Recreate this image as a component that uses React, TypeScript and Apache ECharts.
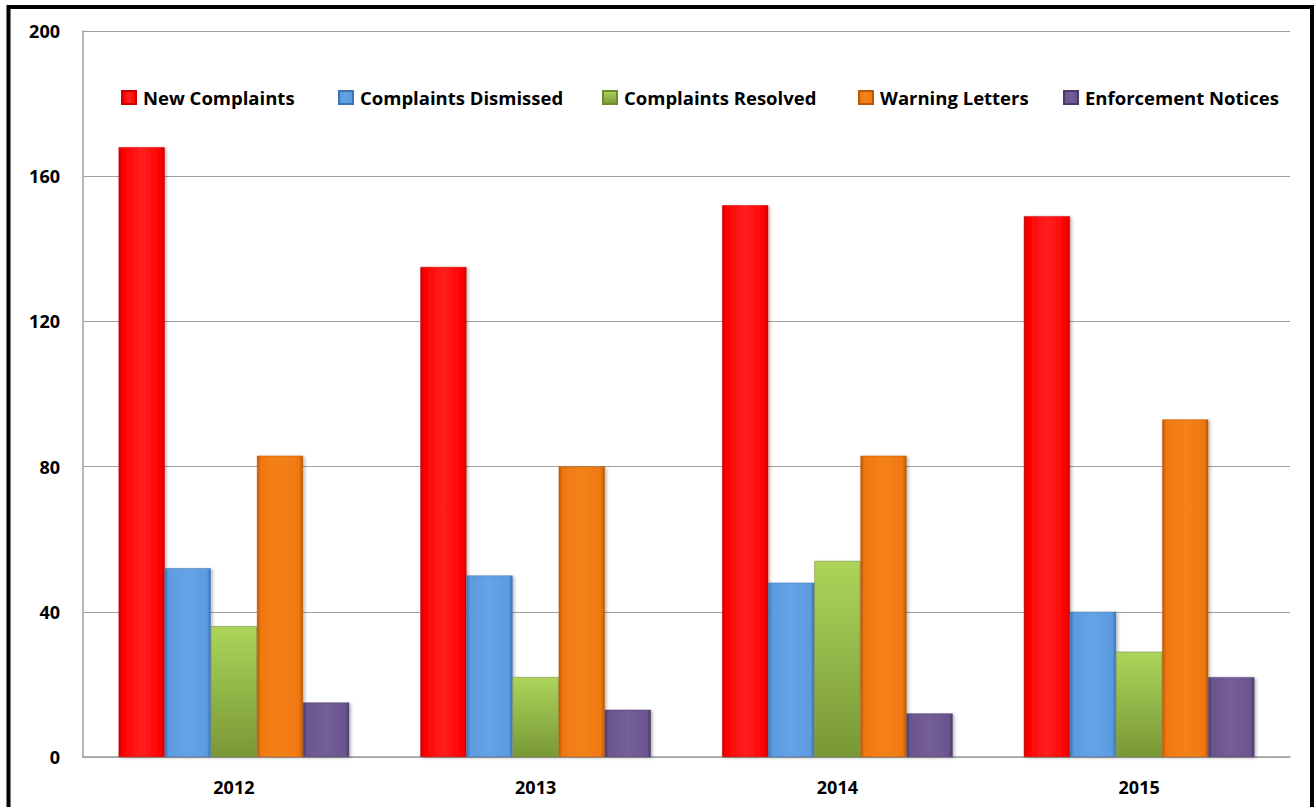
import React, { useEffect, useRef } from "react";
import * as echarts from "echarts";

const years = ["2012", "2013", "2014", "2015"];
const seriesNames = [
  "New Complaints",
  "Complaints Dismissed",
  "Complaints Resolved",
  "Warning Letters",
  "Enforcement Notices",
];
const newComplaints = [168, 135, 152, 149];
const complaintsDismissed = [52, 50, 48, 40];
const complaintsResolved = [36, 22, 54, 29];
const warningLetters = [83, 80, 83, 93];
const enforcementNotices = [15, 13, 12, 22];
const yTicks = [0, 40, 80, 120, 160, 200];

const seriesValues = [
  newComplaints,
  complaintsDismissed,
  complaintsResolved,
  warningLetters,
  enforcementNotices,
];

// [edge, base, highlight]
const palette = [
  ["#C80000", "#FF0000", "#FF2020"],
  ["#3C73B4", "#5B9BE0", "#66A3E6"],
  ["#6E8C30", "#98BC4A", "#A6CC55"],
  ["#B85808", "#F07810", "#F4821A"],
  ["#4A3A68", "#6B5590", "#745E9A"],
];

const legendLefts = [121, 338, 602, 858, 1063];

const FONT = "'Open Sans', 'DejaVu Sans', sans-serif";

function barColor(i: number) {
  const [edge, base, hi] = palette[i];
  if (i === 2) {
    return new echarts.graphic.LinearGradient(0, 0, 0, 1, [
      { offset: 0, color: "#ADD45A" },
      { offset: 1, color: "#789836" },
    ]);
  }
  return new echarts.graphic.LinearGradient(0, 0, 1, 0, [
    { offset: 0, color: edge },
    { offset: 0.08, color: base },
    { offset: 0.5, color: hi },
    { offset: 0.92, color: base },
    { offset: 1, color: edge },
  ]);
}

export default function App() {
  const ref = useRef<HTMLDivElement>(null);
  useEffect(() => {
    if (!ref.current) return;
    const chart = echarts.init(ref.current, undefined, { renderer: "svg" });
    const option: any = {
      animation: false,
      backgroundColor: "#ffffff",
      legend: seriesNames.map((name, i) => ({
        data: [name],
        left: legendLefts[i],
        top: 88,
        icon: "rect",
        itemWidth: 14,
        itemHeight: 13,
        itemGap: 0,
        padding: 0,
        selectedMode: false,
        textStyle: {
          fontFamily: FONT,
          fontWeight: "bold",
          fontSize: 18.5,
          color: "#000",
          padding: [0, 0, 0, 2],
        },
      })),
      grid: { left: 83, top: 31, right: 25, bottom: 50, containLabel: false },
      xAxis: {
        type: "category",
        data: years,
        axisLine: { show: true, lineStyle: { color: "#A0A0A0", width: 1.5 } },
        axisTick: { show: false },
        axisLabel: {
          fontFamily: FONT,
          fontWeight: "bold",
          fontSize: 18,
          color: "#000",
          margin: 21,
        },
      },
      yAxis: {
        type: "value",
        min: 0,
        max: 200,
        interval: 40,
        axisLine: { show: true, lineStyle: { color: "#A0A0A0", width: 1.5 } },
        axisTick: { show: false },
        splitLine: { show: true, lineStyle: { color: "#A0A0A0", width: 1.2 } },
        axisLabel: {
          fontFamily: FONT,
          fontWeight: "bold",
          fontSize: 18,
          color: "#000",
          margin: 23,
          formatter: (v: number) => (yTicks.includes(v) ? String(v) : ""),
        },
      },
      series: seriesNames.map((name, i) => ({
        name,
        type: "bar",
        data: seriesValues[i],
        barGap: "0%",
        barCategoryGap: "23.6%",
        itemStyle: {
          color: barColor(i),
          borderColor: palette[i][0],
          borderWidth: 0.5,
          shadowColor: "rgba(0,0,0,0.25)",
          shadowBlur: 3,
          shadowOffsetX: 2,
          shadowOffsetY: 1,
        },
      })),
      graphic: [
        {
          type: "rect",
          shape: { x: 8.5, y: 7, width: 1303.5, height: 900 },
          style: { fill: "none", stroke: "#000", lineWidth: 4 },
          silent: true,
          z: 100,
        },
      ],
    };
    chart.setOption(option);
    return () => chart.dispose();
  }, []);
  return (
    <div
      ref={ref}
      style={{ position: "fixed", left: 0, top: 0, width: 1315, height: 807 }}
    />
  );
}
